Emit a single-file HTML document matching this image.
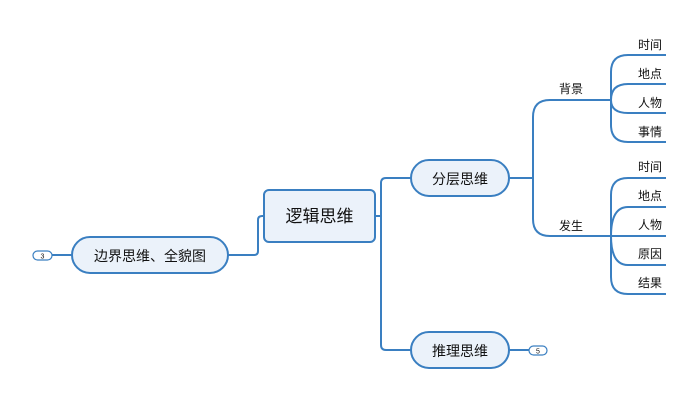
<!DOCTYPE html>
<html><head><meta charset="utf-8"><style>
html,body{margin:0;padding:0;background:#fff;width:700px;height:403px;overflow:hidden}
svg text{font-family:"Liberation Sans","Noto Sans CJK SC",sans-serif;fill:#111}
</style></head><body>
<svg width="700" height="403" viewBox="0 0 700 403" xmlns="http://www.w3.org/2000/svg">
<g fill="none" stroke="#3a7fc1" stroke-width="2">
<!-- left -->
<path d="M52 255 H72"/>
<path d="M228 255 H254 Q258 255 258 251 V220 Q258 216 262 216 H264"/>
<!-- center to children -->
<path d="M375 216 H381"/>
<path d="M411 178 H386 Q381 178 381 183 V345 Q381 350 386 350 H411"/>
<path d="M509 350 H529"/>
<!-- 分层 -->
<path d="M509 178 H533"/>
<path d="M550 100 Q533 100 533 117 V219 Q533 236 550 236"/>
<path d="M550 100 H611"/>
<path d="M550 236 H611"/>
<!-- group 1 -->
<path d="M666 55 H628 Q611 55 611 72 V125 Q611 142 628 142 H666"/>
<path d="M611 100 Q611 84 628 84 H666"/>
<path d="M611 100 Q611 113 628 113 H666"/>
<!-- group 2 -->
<path d="M666 178 H628 Q611 178 611 195 V277 Q611 294 628 294 H666"/>
<path d="M611 236 Q611 207 628 207 H666"/>
<path d="M611 236 H666"/>
<path d="M611 236 Q611 265 628 265 H666"/>
</g>
<g fill="#ebf2fa" stroke="#3a7fc1" stroke-width="2">
<rect x="72" y="237" width="156" height="36" rx="18"/>
<rect x="264" y="190" width="111" height="52" rx="5"/>
<rect x="411" y="160" width="98" height="36" rx="18"/>
<rect x="411" y="332" width="98" height="36" rx="18"/>
</g>
<g fill="#fff" stroke="#3a7fc1" stroke-width="1.2">
<rect x="33" y="251" width="19" height="9" rx="4.5"/>
<rect x="529" y="346" width="18" height="9" rx="4.5"/>
</g>
<text x="42.5" y="258.5" font-size="7" text-anchor="middle">3</text>
<text x="538" y="353.5" font-size="7" text-anchor="middle">5</text>
<text x="150" y="261" font-size="14" text-anchor="middle">边界思维、全貌图</text>
<text x="319.5" y="222" font-size="17" text-anchor="middle">逻辑思维</text>
<text x="460" y="184" font-size="14" text-anchor="middle">分层思维</text>
<text x="460" y="356" font-size="14" text-anchor="middle">推理思维</text>
<g font-size="12">
<text x="559" y="93">背景</text>
<text x="559" y="230">发生</text>
<text x="638" y="49">时间</text>
<text x="638" y="78">地点</text>
<text x="638" y="107">人物</text>
<text x="638" y="136">事情</text>
<text x="638" y="171">时间</text>
<text x="638" y="200">地点</text>
<text x="638" y="229">人物</text>
<text x="638" y="258">原因</text>
<text x="638" y="287">结果</text>
</g>
</svg>
</body></html>
